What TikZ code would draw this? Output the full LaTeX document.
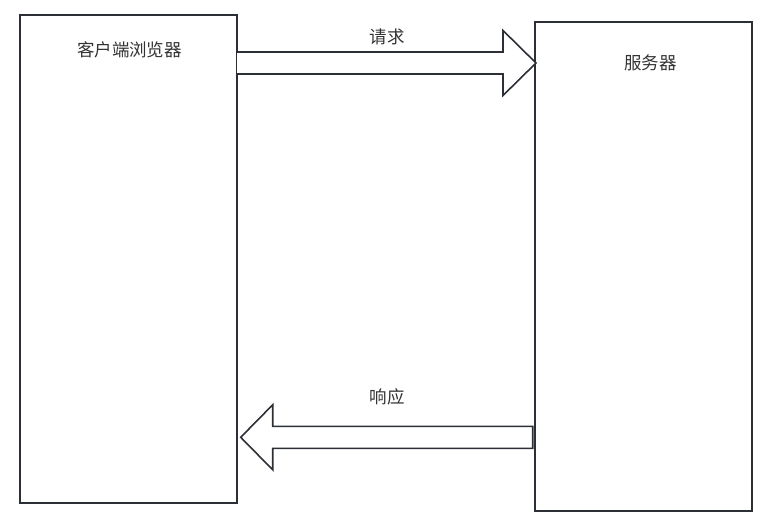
\documentclass[tikz,border=0pt]{standalone}
\usepackage{fontspec}
\newfontfamily\cjk{Noto Sans CJK SC}
\usetikzlibrary{positioning,calc}
\definecolor{linegray}{RGB}{44,48,54}

\begin{document}
\begin{tikzpicture}[x=1pt, y=-1pt,
    box/.style={rectangle, draw=linegray, line width=1.6pt, outer sep=0pt,
                minimum width=217pt, anchor=north west},
    lbl/.style={font=\cjk\fontsize{17.5}{19}\selectfont, text=black!80},
    blockarrow/.style={draw=linegray, line width=1.6pt, line join=miter, fill=white}]
\useasboundingbox (0,0) rectangle (772,527);

% the two ends
\node[box, minimum height=488pt] (client) at (20,15) {};
\node[box, minimum height=489pt] (server) at (535,22) {};
\node[lbl] (clientlbl) at (129.5,50) {客户端浏览器};
\node[lbl] (serverlbl) at (650.5,63) {服务器};

% request arrow
\coordinate (reqtail) at (client.east |- 0,63);
\coordinate (reqtip) at ($(server.west |- reqtail)+(1,0)$);
\draw[blockarrow] ($(reqtail)+(0,-11)$) -- ($(reqtip)+(-33,-11)$)
    -- ($(reqtip)+(-33,-32.5)$) -- (reqtip) -- ($(reqtip)+(-33,32.5)$)
    -- ($(reqtip)+(-33,11)$) -- ($(reqtail)+(0,11)$);
\node[lbl] (reqlbl) at (387,37) {请求};

% response arrow
\coordinate (resptail) at ($(server.west |- 0,437.3)+(-2.3,0)$);
\coordinate (resptip) at ($(client.east |- resptail)+(3.7,0)$);
\draw[blockarrow] ($(resptail)+(0,-11)$) -- ($(resptip)+(32,-11)$)
    -- ($(resptip)+(32,-32.5)$) -- (resptip) -- ($(resptip)+(32,32.5)$)
    -- ($(resptip)+(32,11)$) -- ($(resptail)+(0,11)$) -- cycle;
\node[lbl] (resplbl) at (387,397) {响应};
\end{tikzpicture}
\end{document}
